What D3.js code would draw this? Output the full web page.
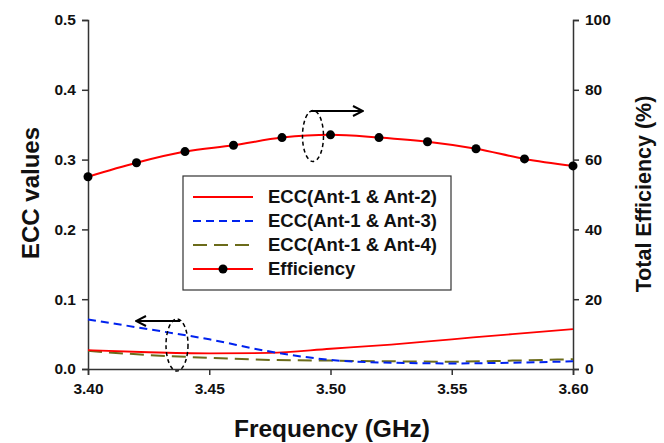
<!DOCTYPE html>
<html><head><meta charset="utf-8">
<script src="https://cdn.jsdelivr.net/npm/d3@7"></script>
<style>body{margin:0;background:#fff}svg{display:block}text{font-family:"Liberation Sans",Arial,sans-serif}</style>
</head><body>
<script>
const freqTicks = [3.40, 3.45, 3.50, 3.55, 3.60];
const eccTicks = [0.0, 0.1, 0.2, 0.3, 0.4, 0.5];
const effTicks = [0, 20, 40, 60, 80, 100];

const eccFreq = [3.40, 3.425, 3.45, 3.475, 3.50, 3.525, 3.55, 3.575, 3.60];
const ecc12 = [0.027, 0.024, 0.0225, 0.023, 0.029, 0.035, 0.0425, 0.050, 0.057];
const ecc13 = [0.071, 0.057, 0.0425, 0.025, 0.013, 0.009, 0.008, 0.009, 0.011];
const ecc14 = [0.026, 0.020, 0.016, 0.013, 0.012, 0.011, 0.0105, 0.012, 0.014];

const effFreq = [3.40, 3.42, 3.44, 3.46, 3.48, 3.50, 3.52, 3.54, 3.56, 3.58, 3.60];
const effValues = [55.1, 59.1, 62.3, 64.1, 66.3, 67.1, 66.3, 65.1, 63.1, 60.2, 58.2];

const legendLabels = ["ECC(Ant-1 & Ant-2)", "ECC(Ant-1 & Ant-3)", "ECC(Ant-1 & Ant-4)", "Efficiency"];

const W = 664, H = 443;
const m = {left: 88, right: 664 - 573, top: 20, bottom: 443 - 369};
const svg = d3.select("body").append("svg").attr("width", W).attr("height", H);

const x = d3.scaleLinear().domain([3.40, 3.60]).range([m.left, W - m.right]);
const yL = d3.scaleLinear().domain([0, 0.5]).range([H - m.bottom, m.top]);
const yR = d3.scaleLinear().domain([0, 100]).range([H - m.bottom, m.top]);

function styleAxis(g) {
  g.selectAll("path.domain").attr("stroke", "#333").attr("stroke-width", 1.5);
  g.selectAll(".tick line").attr("stroke", "#333").attr("stroke-width", 1.5);
  g.selectAll(".tick text").attr("font-size", 15.5).attr("font-weight", "bold").attr("fill", "#111")
    .style("font-family", '"Liberation Sans", Arial, sans-serif');
}

svg.append("g").attr("transform", `translate(0,${H - m.bottom})`)
  .call(d3.axisBottom(x).tickValues(freqTicks).tickFormat(d3.format(".2f")).tickSizeOuter(0).tickSize(6).tickPadding(8))
  .call(styleAxis);
svg.append("g").attr("transform", `translate(${m.left},0)`)
  .call(d3.axisLeft(yL).tickValues(eccTicks).tickFormat(d3.format(".1f")).tickSizeOuter(0).tickSize(6).tickPadding(6))
  .call(styleAxis);
svg.append("g").attr("transform", `translate(${W - m.right},0)`)
  .call(d3.axisRight(yR).tickValues(effTicks).tickFormat(d3.format("d")).tickSizeOuter(0).tickSize(6).tickPadding(6))
  .call(styleAxis);

const lineL = d3.line().x(d => x(d[0])).y(d => yL(d[1])).curve(d3.curveMonotoneX);
const lineR = d3.line().x(d => x(d[0])).y(d => yR(d[1])).curve(d3.curveMonotoneX);

const s12 = eccFreq.map((f, i) => [f, ecc12[i]]);
const s13 = eccFreq.map((f, i) => [f, ecc13[i]]);
const s14 = eccFreq.map((f, i) => [f, ecc14[i]]);
const sEff = effFreq.map((f, i) => [f, effValues[i]]);

svg.append("path").attr("d", lineL(s14)).attr("fill", "none").attr("stroke", "#6b6b1a").attr("stroke-width", 2).attr("stroke-dasharray", "14,7");
svg.append("path").attr("d", lineL(s12)).attr("fill", "none").attr("stroke", "#ff0000").attr("stroke-width", 1.8);
svg.append("path").attr("d", lineL(s13)).attr("fill", "none").attr("stroke", "#0022ee").attr("stroke-width", 2).attr("stroke-dasharray", "8,5");

svg.append("path").attr("d", lineR(sEff)).attr("fill", "none").attr("stroke", "#ff0000").attr("stroke-width", 2);
svg.selectAll("circle.eff").data(sEff).enter().append("circle").attr("class", "eff")
  .attr("cx", d => x(d[0])).attr("cy", d => yR(d[1])).attr("r", 4.5).attr("fill", "#000");

// Annotations
const defs = svg.append("defs");
defs.append("marker").attr("id", "arr").attr("viewBox", "0 0 12 12").attr("refX", 11).attr("refY", 6)
  .attr("markerWidth", 12).attr("markerHeight", 12).attr("markerUnits", "userSpaceOnUse").attr("orient", "auto")
  .append("path").attr("d", "M1,1 L11,6 L1,11").attr("fill", "none").attr("stroke", "#000").attr("stroke-width", 2);

svg.append("ellipse").attr("cx", 313).attr("cy", 136).attr("rx", 10.5).attr("ry", 25.5)
  .attr("fill", "none").attr("stroke", "#000").attr("stroke-width", 1.5).attr("stroke-dasharray", "4,3");
svg.append("line").attr("x1", 311).attr("y1", 111).attr("x2", 363).attr("y2", 111)
  .attr("stroke", "#000").attr("stroke-width", 2).attr("marker-end", "url(#arr)");

svg.append("ellipse").attr("cx", 177).attr("cy", 345).attr("rx", 11).attr("ry", 26)
  .attr("fill", "none").attr("stroke", "#000").attr("stroke-width", 1.5).attr("stroke-dasharray", "4,3");
svg.append("line").attr("x1", 180).attr("y1", 321).attr("x2", 136).attr("y2", 321)
  .attr("stroke", "#000").attr("stroke-width", 2).attr("marker-end", "url(#arr)");

// Legend
const lg = svg.append("g");
lg.append("rect").attr("x", 183).attr("y", 176).attr("width", 268).attr("height", 114)
  .attr("fill", "#fff").attr("stroke", "#333").attr("stroke-width", 1.2);
const rowsY = [197, 221, 245, 269];
const lstyles = [
  {c: "#ff0000", d: null, w: 1.8},
  {c: "#0022ee", d: "8,5", w: 2},
  {c: "#6b6b1a", d: "14,7", w: 2},
  {c: "#ff0000", d: null, w: 2}
];
legendLabels.forEach((t, i) => {
  const l = lg.append("line").attr("x1", 193).attr("x2", 253).attr("y1", rowsY[i]).attr("y2", rowsY[i])
    .attr("stroke", lstyles[i].c).attr("stroke-width", lstyles[i].w);
  if (lstyles[i].d) l.attr("stroke-dasharray", lstyles[i].d);
  if (i === 3) lg.append("circle").attr("cx", 223).attr("cy", rowsY[i]).attr("r", 4.5).attr("fill", "#000");
  lg.append("text").attr("x", 268).attr("y", rowsY[i]).attr("dy", "0.35em")
    .attr("font-size", 18.5).attr("font-weight", "bold").attr("fill", "#111").text(t);
});

// Axis titles
svg.append("text").attr("transform", "translate(39,193) rotate(-90)").attr("text-anchor", "middle")
  .attr("font-size", 24).attr("font-weight", "bold").attr("fill", "#111").text("ECC values");
svg.append("text").attr("transform", "translate(651,194) rotate(-90)").attr("text-anchor", "middle")
  .attr("font-size", 21.5).attr("font-weight", "bold").attr("fill", "#111").text("Total Efficiency (%)");
svg.append("text").attr("x", 332).attr("y", 437).attr("text-anchor", "middle")
  .attr("font-size", 24.5).attr("font-weight", "bold").attr("fill", "#111").text("Frequency (GHz)");
</script>
</body></html>
